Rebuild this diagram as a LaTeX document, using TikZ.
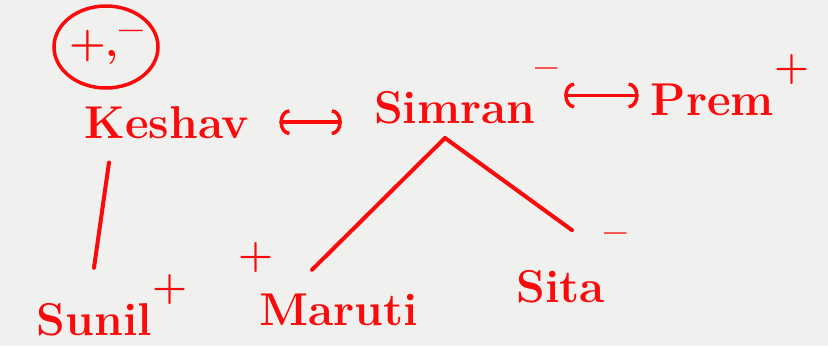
\documentclass[tikz,border=0pt]{standalone}
\usepackage{tikz}
\usetikzlibrary{arrows.meta,shapes.geometric}
\definecolor{ink}{RGB}{250,10,10}
\definecolor{paper}{RGB}{240,240,238}
\newcommand\sgn[2][36pt]{\raisebox{#1}{\fontsize{40}{40}\selectfont#2}}

\begin{document}
\begin{tikzpicture}[x=1pt,y=-1pt,
   person/.style={text=ink,font=\fontsize{46}{54}\selectfont\bfseries,inner sep=2pt,anchor=base},
   link/.style={draw=ink,line width=4pt,line cap=round},
   rel/.style={link,line width=3.5pt,{Arc Barb[length=10pt,width=26pt]}-{Arc Barb[length=10pt,width=26pt]}}]
  \fill[paper] (0,0) rectangle (828,346);
  \useasboundingbox (0,0) rectangle (828,346);
  \node[draw=ink,line width=3.5pt,ellipse,text=ink,font=\fontsize{42}{44}\selectfont\bfseries,
        minimum width=104pt,minimum height=82pt,inner sep=0pt] (signs) at (106,47) {+,\raisebox{14pt}{--}};
  \node[person] (Keshav) at (167,138) {Keshav};
  \node[person] (Simran) at (466,123) {Simran\sgn[44pt]{--}};
  \node[person] (Prem) at (730,115) {Prem\sgn{+}};
  \node[person] (Sunil) at (112,335) {Sunil\sgn{+}};
  \node[person] (Maruti) at (328,325) {\sgn[58pt]{+}\kern-14pt Maruti};
  \node[person] (Sita) at (572,302) {Sita\sgn[58pt]{--}};
  \coordinate (fork) at (445,138);
  \draw[rel,shorten <=28pt,shorten >=30pt] (Keshav.east) -- (Keshav.east -| Simran.west);
  \draw[rel,shorten <=4pt,shorten >=10pt] (Simran.east) -- (Simran.east -| Prem.west);
  \draw[link] ([xshift=-58pt,yshift=-22pt]Keshav.south) -- ([xshift=-18pt,yshift=4pt]Sunil.north);
  \draw[link] (fork) -- ([xshift=-16pt,yshift=-30pt]Maruti.north);
  \draw[link] (fork) -- (Sita.north);
 \end{tikzpicture}
\end{document}
